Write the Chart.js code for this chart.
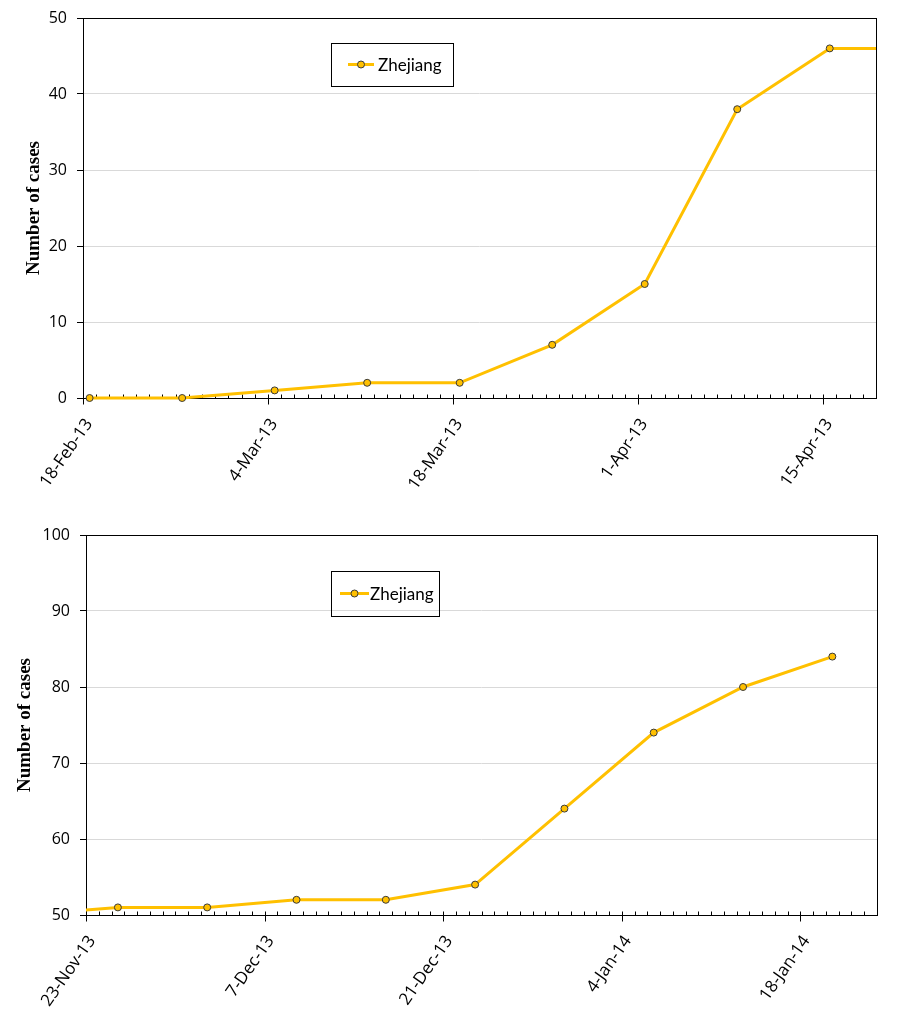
<!DOCTYPE html>
<html>
<head>
<meta charset="utf-8">
<script src="https://cdn.jsdelivr.net/npm/chart.js@4.4.0/dist/chart.umd.min.js"></script>
<style>
  html, body { margin: 0; background: #fff; }
  .wrap { position: absolute; left: 0; width: 900px; }
</style>
</head>
<body>
<div class="wrap" style="top:0"><canvas id="chartSpring" width="900" height="500"></canvas></div>
<div class="wrap" style="top:516px"><canvas id="chartWinter" width="900" height="516"></canvas></div>
<script>
// first wave, weekly cumulative cases (last point lies past the axis end)
const springDates = ['2013-02-18', '2013-02-25', '2013-03-04', '2013-03-11', '2013-03-18',
  '2013-03-25', '2013-04-01', '2013-04-08', '2013-04-15', '2013-04-22'];
const springCases = [0, 0, 1, 2, 2, 7, 15, 38, 46, 46];
const springRange = ['2013-02-18', '2013-04-19'];
const springTicks = ['2013-02-18', '2013-03-04', '2013-03-18', '2013-04-01', '2013-04-15'];

// second wave (first point lies before the axis start)
const winterDates = ['2013-11-18', '2013-11-25', '2013-12-02', '2013-12-09', '2013-12-16',
  '2013-12-23', '2013-12-30', '2014-01-06', '2014-01-13', '2014-01-20'];
const winterCases = [50, 51, 51, 52, 52, 54, 64, 74, 80, 84];
const winterRange = ['2013-11-23', '2014-01-24'];
const winterTicks = ['2013-11-23', '2013-12-07', '2013-12-21', '2014-01-04', '2014-01-18'];

const seriesName = 'Zhejiang';
const yTitle = 'Number of cases';

const DAY = 86400000;
const MONTHS = ['Jan', 'Feb', 'Mar', 'Apr', 'May', 'Jun', 'Jul', 'Aug', 'Sep', 'Oct', 'Nov', 'Dec'];
const toUTC = s => { const [y, m, d] = s.split('-').map(Number); return Date.UTC(y, m - 1, d); };
const fmtDate = t => {
  const d = new Date(t);
  return d.getUTCDate() + '-' + MONTHS[d.getUTCMonth()] + '-' + String(d.getUTCFullYear()).slice(2);
};

Chart.defaults.font.family = 'Open Sans';
Chart.defaults.color = '#000';

// daily minor ticks pointing up, major ticks crossing down, plus the plot frame
const frameAndTicks = {
  id: 'frameAndTicks',
  beforeDatasetsDraw(chart) {
    const {ctx, chartArea: a, scales: {x}} = chart;
    const majors = x.ticks.map(t => t.value);
    const yb = Math.round(a.bottom) + 0.5;
    ctx.save();
    ctx.strokeStyle = '#000';
    ctx.lineWidth = 1;
    ctx.beginPath();
    for (let d = Math.ceil(x.min); d <= x.max; d++) {
      const px = Math.round(x.getPixelForValue(d)) + 0.5;
      ctx.moveTo(px, yb - 4);
      ctx.lineTo(px, yb + (majors.includes(d) ? 6 : 0));
    }
    ctx.stroke();
    ctx.strokeRect(Math.round(a.left) + 0.5, Math.round(a.top) + 0.5,
      Math.round(a.right - a.left), Math.round(a.bottom - a.top));
    ctx.restore();
  }
};

// boxed legend like the spreadsheet one
const boxLegend = {
  id: 'boxLegend',
  afterDraw(chart, args, o) {
    const ds = chart.data.datasets[0];
    const ctx = chart.ctx;
    const cy = o.y + o.h / 2;
    ctx.save();
    ctx.strokeStyle = '#000';
    ctx.lineWidth = 1;
    ctx.strokeRect(o.x + 0.5, o.y + 0.5, o.w, o.h);
    ctx.strokeStyle = ds.borderColor;
    ctx.lineWidth = 3;
    ctx.beginPath();
    ctx.moveTo(o.lineX, cy);
    ctx.lineTo(o.lineX + o.lineW, cy);
    ctx.stroke();
    ctx.beginPath();
    ctx.arc(o.lineX + o.lineW / 2, cy, 3.5, 0, Math.PI * 2);
    ctx.fillStyle = ds.pointBackgroundColor;
    ctx.fill();
    ctx.lineWidth = 1;
    ctx.strokeStyle = ds.pointBorderColor;
    ctx.stroke();
    ctx.fillStyle = '#000';
    ctx.font = '17px Lato';
    ctx.textBaseline = 'middle';
    ctx.fillText(ds.label, o.textX, cy + 1);
    ctx.restore();
  }
};

function makeChart(id, dates, cases, range, tickDates, yMin, yMax, g) {
  const start = toUTC(range[0]);
  const span = (toUTC(range[1]) - start) / DAY;
  // points sit in the middle of their day, as in the original
  const points = dates.map((d, i) => ({x: (toUTC(d) - start) / DAY + 0.5, y: cases[i]}));
  const tickDays = tickDates.map(d => (toUTC(d) - start) / DAY);
  const canvas = document.getElementById(id);

  return new Chart(canvas.getContext('2d'), {
    type: 'line',
    data: {
      datasets: [{
        label: seriesName,
        data: points,
        borderColor: '#FFC000',
        borderWidth: 3,
        pointBackgroundColor: '#FFC000',
        pointBorderColor: '#3a3a3a',
        pointBorderWidth: 1,
        pointRadius: 3.5,
        tension: 0,
        clip: {left: 0, right: 0, top: 6, bottom: 6}
      }]
    },
    options: {
      responsive: false,
      animation: false,
      layout: {
        padding: {top: g.top, right: 900 - g.right, left: 0, bottom: 0}
      },
      plugins: {
        legend: {display: false},
        tooltip: {enabled: false},
        boxLegend: g.legend
      },
      scales: {
        x: {
          type: 'linear',
          min: 0,
          max: span,
          afterBuildTicks: s => { s.ticks = tickDays.map(v => ({value: v})); },
          ticks: {
            autoSkip: false,
            minRotation: 55,
            maxRotation: 55,
            padding: 17,
            labelOffset: 6,
            font: {size: 17},
            callback: v => fmtDate(start + v * DAY)
          },
          grid: {display: false, drawTicks: false},
          border: {display: false},
          afterFit: s => {
            s.height = canvas.height - g.bottom;
            s.paddingLeft = 0;
            s.paddingRight = 0;
          }
        },
        y: {
          min: yMin,
          max: yMax,
          ticks: {stepSize: 10, padding: 10, font: {size: 16}},
          grid: {color: '#d9d9d9', tickColor: '#000', tickLength: 6},
          border: {display: false},
          title: {
            display: true,
            text: yTitle,
            font: {family: 'Liberation Serif', size: 19, weight: 'bold'},
            padding: {top: g.titlePad, bottom: 0}
          },
          afterFit: s => {
            s.width = g.left;
            s.paddingTop = 0;
            s.paddingBottom = 0;
          }
        }
      }
    },
    plugins: [frameAndTicks, boxLegend]
  });
}

makeChart('chartSpring', springDates, springCases, springRange, springTicks, 0, 50, {
  left: 83, top: 18, right: 876, bottom: 398, titlePad: 23,
  legend: {x: 331, y: 43, w: 122, h: 43, lineX: 348, lineW: 26, textX: 378}
});

makeChart('chartWinter', winterDates, winterCases, winterRange, winterTicks, 50, 100, {
  left: 86, top: 19, right: 877, bottom: 399, titlePad: 14,
  legend: {x: 331, y: 55, w: 108, h: 45, lineX: 340, lineW: 29, textX: 370}
});
</script>
</body>
</html>
